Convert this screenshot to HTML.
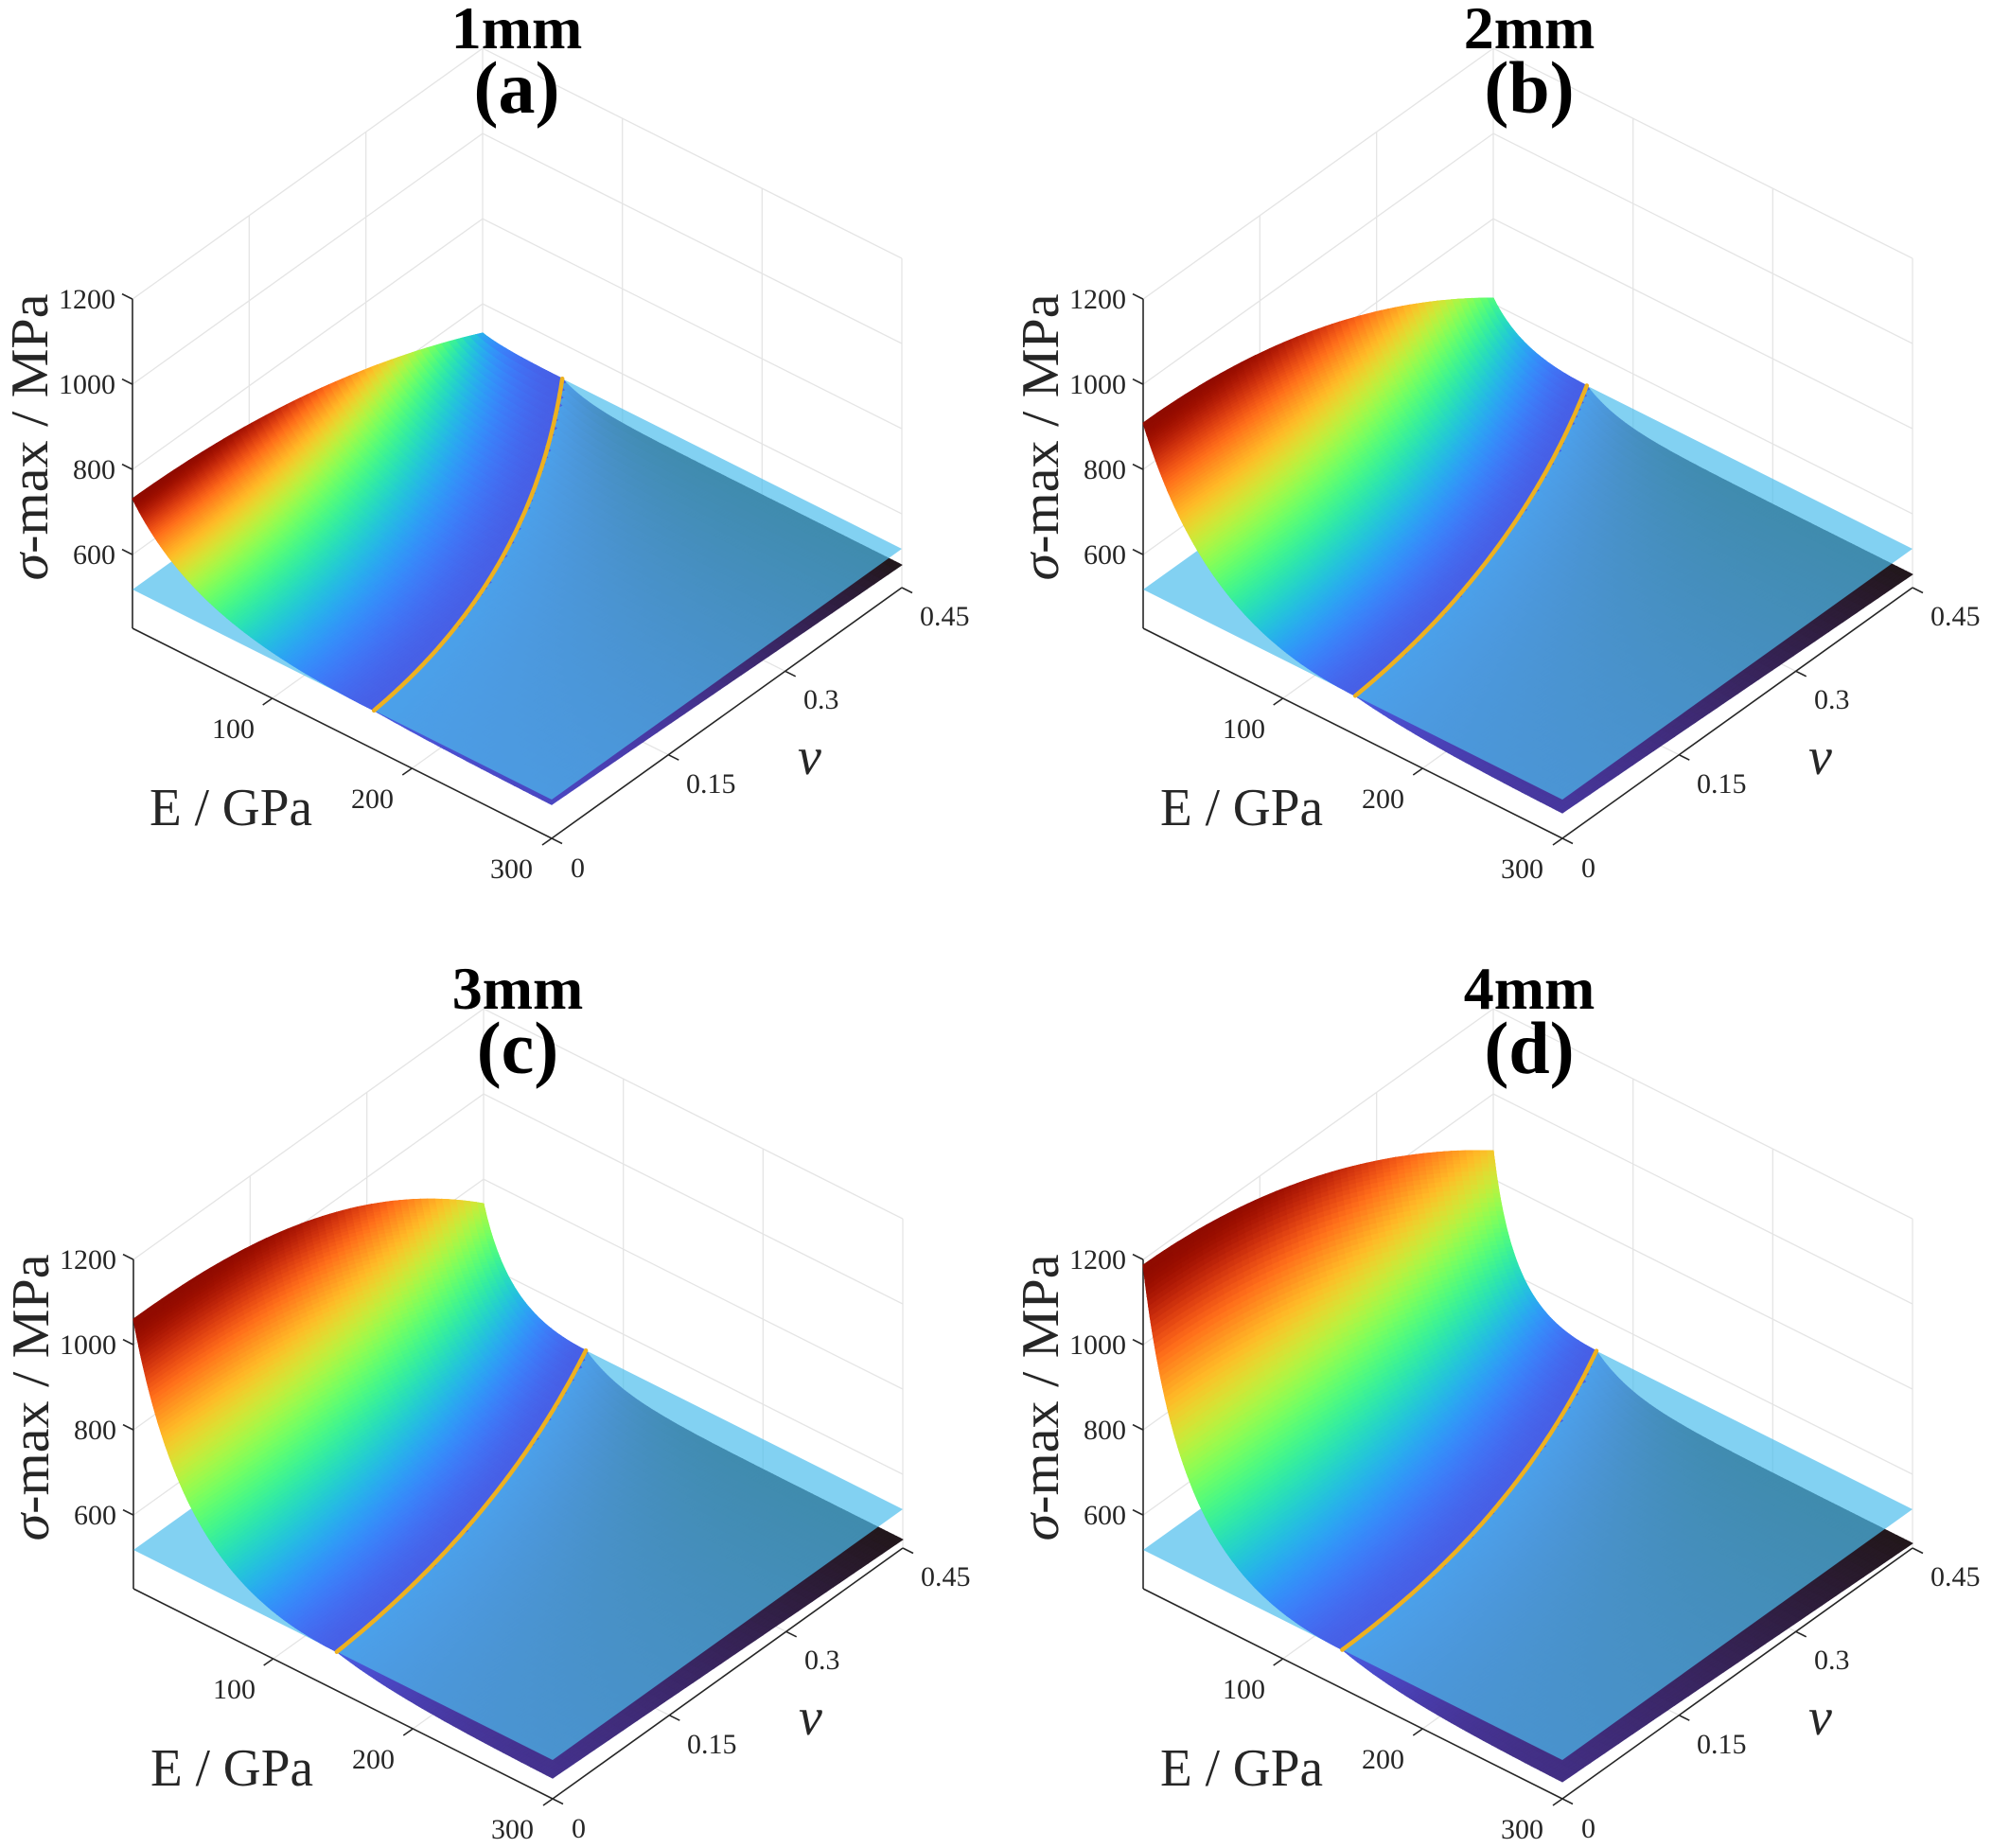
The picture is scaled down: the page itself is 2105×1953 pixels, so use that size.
<!DOCTYPE html>
<html><head><meta charset="utf-8"><style>
html,body{margin:0;padding:0;background:#fff;}
svg{display:block;font-family:"Liberation Serif","DejaVu Serif",serif;}
.tk{font-size:30px;fill:#262626;}
.lb{font-size:56px;fill:#262626;}
.tt{font-weight:bold;fill:#000;text-anchor:middle;}
</style></head><body>
<svg id="fig" width="2105" height="1953" viewBox="0 0 2105 1953" xmlns="http://www.w3.org/2000/svg">
<rect width="2105" height="1953" fill="#fff"/>
<g transform="translate(0,0)">
 <g id="p0"></g>
 <g class="tk"><text x="122" y="596" text-anchor="end">600</text><text x="122" y="506" text-anchor="end">800</text><text x="122" y="416" text-anchor="end">1000</text><text x="122" y="326" text-anchor="end">1200</text>
 <text x="269" y="780" text-anchor="end">100</text><text x="416" y="854" text-anchor="end">200</text><text x="563" y="928" text-anchor="end">300</text>
 <text x="603" y="927">0</text><text x="725" y="838">0.15</text><text x="849" y="749">0.3</text><text x="972" y="661">0.45</text></g>
 <text class="lb" x="158" y="872" textLength="172" lengthAdjust="spacingAndGlyphs">E / GPa</text>
 <text class="lb" x="843" y="818" font-style="italic" font-size="62">ν</text>
 <text class="lb" transform="translate(50,462) rotate(-90)" text-anchor="middle" font-size="46" textLength="303" lengthAdjust="spacingAndGlyphs"><tspan font-style="italic">σ</tspan>-max / MPa</text>
 <text class="tt" x="546" y="51" font-size="64">1mm</text><text class="tt" x="546" y="119" font-size="78">(a)</text>
</g>
<g transform="translate(1068,0)">
 <g id="p1"></g>
 <g class="tk"><text x="122" y="596" text-anchor="end">600</text><text x="122" y="506" text-anchor="end">800</text><text x="122" y="416" text-anchor="end">1000</text><text x="122" y="326" text-anchor="end">1200</text>
 <text x="269" y="780" text-anchor="end">100</text><text x="416" y="854" text-anchor="end">200</text><text x="563" y="928" text-anchor="end">300</text>
 <text x="603" y="927">0</text><text x="725" y="838">0.15</text><text x="849" y="749">0.3</text><text x="972" y="661">0.45</text></g>
 <text class="lb" x="158" y="872" textLength="172" lengthAdjust="spacingAndGlyphs">E / GPa</text>
 <text class="lb" x="843" y="818" font-style="italic" font-size="62">ν</text>
 <text class="lb" transform="translate(50,462) rotate(-90)" text-anchor="middle" font-size="46" textLength="303" lengthAdjust="spacingAndGlyphs"><tspan font-style="italic">σ</tspan>-max / MPa</text>
 <text class="tt" x="548" y="51" font-size="64">2mm</text><text class="tt" x="548" y="119" font-size="78">(b)</text>
</g>
<g transform="translate(1,1015)">
 <g id="p2"></g>
 <g class="tk"><text x="122" y="596" text-anchor="end">600</text><text x="122" y="506" text-anchor="end">800</text><text x="122" y="416" text-anchor="end">1000</text><text x="122" y="326" text-anchor="end">1200</text>
 <text x="269" y="780" text-anchor="end">100</text><text x="416" y="854" text-anchor="end">200</text><text x="563" y="928" text-anchor="end">300</text>
 <text x="603" y="927">0</text><text x="725" y="838">0.15</text><text x="849" y="749">0.3</text><text x="972" y="661">0.45</text></g>
 <text class="lb" x="158" y="872" textLength="172" lengthAdjust="spacingAndGlyphs">E / GPa</text>
 <text class="lb" x="843" y="818" font-style="italic" font-size="62">ν</text>
 <text class="lb" transform="translate(50,462) rotate(-90)" text-anchor="middle" font-size="46" textLength="303" lengthAdjust="spacingAndGlyphs"><tspan font-style="italic">σ</tspan>-max / MPa</text>
 <text class="tt" x="546" y="51" font-size="64">3mm</text><text class="tt" x="546" y="119" font-size="78">(c)</text>
</g>
<g transform="translate(1068,1015)">
 <g id="p3"></g>
 <g class="tk"><text x="122" y="596" text-anchor="end">600</text><text x="122" y="506" text-anchor="end">800</text><text x="122" y="416" text-anchor="end">1000</text><text x="122" y="326" text-anchor="end">1200</text>
 <text x="269" y="780" text-anchor="end">100</text><text x="416" y="854" text-anchor="end">200</text><text x="563" y="928" text-anchor="end">300</text>
 <text x="603" y="927">0</text><text x="725" y="838">0.15</text><text x="849" y="749">0.3</text><text x="972" y="661">0.45</text></g>
 <text class="lb" x="158" y="872" textLength="172" lengthAdjust="spacingAndGlyphs">E / GPa</text>
 <text class="lb" x="843" y="818" font-style="italic" font-size="62">ν</text>
 <text class="lb" transform="translate(50,462) rotate(-90)" text-anchor="middle" font-size="46" textLength="303" lengthAdjust="spacingAndGlyphs"><tspan font-style="italic">σ</tspan>-max / MPa</text>
 <text class="tt" x="548" y="51" font-size="64">4mm</text><text class="tt" x="548" y="119" font-size="78">(d)</text>
</g>
</svg>
<script>
(function(){
var PL=41;
function turbo(t){t=Math.max(0,Math.min(1,t));
var r=0.13572138+t*(4.61539260+t*(-42.66032258+t*(132.13108234+t*(-152.94239396+t*59.28637943))));
var g=0.09140261+t*(2.19418839+t*(4.84296658+t*(-14.18503333+t*(4.27729857+t*2.82956604))));
var b=0.10667330+t*(12.64194608+t*(-60.58204836+t*(110.36276771+t*(-89.90310912+t*27.34824973))));
function c(x){return Math.round(255*Math.max(0,Math.min(1,x)));}
return 'rgb('+c(r)+','+c(g)+','+c(b)+')';}
function F(u,v){return [140+443*u+370*v, 664+222*u-265*v];}
function hz(z){return (z-427)*0.45;}
var P=[
 {hb:47,ha:90,p:2,c0:35,c1:24,ui:[.576,.5,.46,.19],beta:2},
 {hb:84,ha:133,p:2,c0:26,c1:14,ui:[.506,.42,.44,.223],beta:1.5},
 {hb:142,ha:143,p:2.3,c0:21,c1:9,ui:[.485,.433,.427,.244],beta:2.3},
 {hb:198,ha:144,p:1.9,c0:17,c1:5,ui:[.475,.43,.43,.246],beta:3.5}];
function lag(Q,v){var a=Q.ui[0],m=Q.ui[1],b=Q.ui[2],c=Q.ui[3];
 return a*(v-m)*(v-1)/(m)+b*v*(v-1)/(m*(m-1))+c*v*(v-m)/(1-m);}
function H(Q,u,v){var h0=Q.hb+Q.ha*(1-Math.pow(v,Q.p));var c=Q.c0+(Q.c1-Q.c0)*v;var ui=lag(Q,v);var x=u/ui;
 if(x<=1){var g=(1-x)*(1-x)/(1+Q.beta*x);return PL+(h0-PL)*g;}
 return c+(PL-c)*Math.exp(-3*(x-1));}
function pt(u,v,h){var f=F(u,v);return [f[0],f[1]-h];}
function ln(a,b,col,w){return '<line x1="'+a[0].toFixed(1)+'" y1="'+a[1].toFixed(1)+'" x2="'+b[0].toFixed(1)+'" y2="'+b[1].toFixed(1)+'" stroke="'+col+'" stroke-width="'+w+'"/>';}
var GC='#e4e4e4',AC='#262626';
for(var k=0;k<4;k++){
 var Q=P[k],s='';
 var top=hz(1200),zs=[600,800,1000,1200],i,j;
 for(i=0;i<zs.length;i++){var h=hz(zs[i]);s+=ln(pt(0,0,h),pt(0,1,h),GC,1.3);s+=ln(pt(0,1,h),pt(1,1,h),GC,1.3);}
 [1/3,2/3,1].forEach(function(v){s+=ln(pt(0,v,0),pt(0,v,top),GC,1.3);});
 [1/3,2/3,1].forEach(function(u){s+=ln(pt(u,1,0),pt(u,1,top),GC,1.3);});
 [1/3,2/3].forEach(function(u){s+=ln(pt(u,0,0),pt(u,1,0),GC,1.3);});
 [1/3,2/3].forEach(function(v){s+=ln(pt(0,v,0),pt(1,v,0),GC,1.3);});
 s+=ln(pt(0,0,0),pt(0,0,top),AC,1.6);s+=ln(pt(0,0,0),pt(1,0,0),AC,1.6);s+=ln(pt(1,0,0),pt(1,1,0),AC,1.6);
 zs.forEach(function(z){var a=pt(0,0,hz(z));s+=ln(a,[a[0]-11,a[1]-5.5],AC,1.6);});
 [1/3,2/3,1].forEach(function(u){var a=pt(u,0,0);s+=ln(a,[a[0]-10,a[1]+7],AC,1.6);});
 [0,1/3,2/3,1].forEach(function(v){var a=pt(1,v,0);s+=ln(a,[a[0]+11,a[1]+5.5],AC,1.6);});
 var Nu=200,Nv=50,cells=[];
 var hmax=Q.hb+Q.ha,hmin=Q.c1,TP=0.11;
 function tcol(h){
  if(h>=PL) return TP+(1-TP)*Math.pow((h-PL)/(hmax-PL),0.8);
  return TP*Math.max(0,(h-hmin)/(PL-hmin));
 }
 function us(i){var s=i/Nu;return Math.pow(s,1.5);}
 var G=[];
 for(i=0;i<=Nu;i++){G[i]=[];for(j=0;j<=Nv;j++){var u=us(i),v=j/Nv;G[i][j]=pt(u,v,H(Q,u,v));}}
 for(i=0;i<Nu;i++)for(j=0;j<Nv;j++){
  var uc=(us(i)+us(i+1))/2,vc=(j+.5)/Nv,hc=H(Q,uc,vc);
  var a=G[i][j],b=G[i+1][j],c=G[i+1][j+1],d=G[i][j+1];
  var col=turbo(tcol(hc));
  var path='<path d="M'+a[0].toFixed(1)+' '+a[1].toFixed(1)+'L'+b[0].toFixed(1)+' '+b[1].toFixed(1)+'L'+c[0].toFixed(1)+' '+c[1].toFixed(1)+'L'+d[0].toFixed(1)+' '+d[1].toFixed(1)+'Z" fill="'+col+'" stroke="'+col+'" stroke-width="0.9"/>';
  cells.push({d:F(uc,vc)[1],p:path,up:hc>PL});
 }
 cells.sort(function(x,y){return x.d-y.d;});
 var all='',up='';
 cells.forEach(function(c){all+=c.p;if(c.up)up+=c.p;});
 s+=all;
 var q=[pt(0,0,PL),pt(1,0,PL),pt(1,1,PL),pt(0,1,PL)];
 s+='<polygon points="'+q.map(function(p){return p[0].toFixed(1)+','+p[1].toFixed(1);}).join(' ')+'" fill="rgb(77,190,237)" fill-opacity="0.7"/>';
 s+=up;
 var ol=[];for(j=0;j<=100;j++){var v=j/100;ol.push(pt(lag(Q,v),v,PL));}
 s+='<polyline points="'+ol.map(function(p){return p[0].toFixed(1)+','+p[1].toFixed(1);}).join(' ')+'" fill="none" stroke="#EDB120" stroke-width="4.5" stroke-linejoin="round" stroke-linecap="round"/>';
 document.getElementById('p'+k).innerHTML=s;
}
})();
</script>
</body></html>
